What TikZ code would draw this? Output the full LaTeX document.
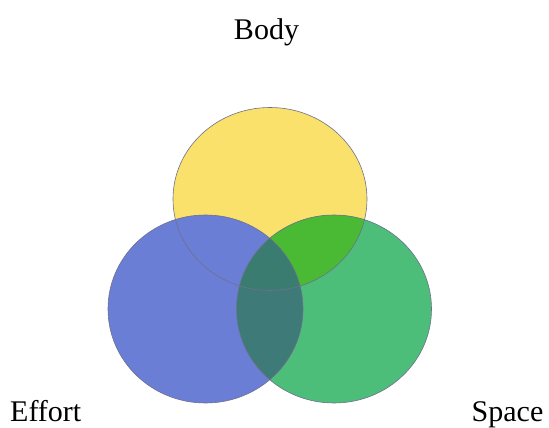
\documentclass[tikz,border=0pt]{standalone}
\usepackage{fontspec}
\setmainfont{Liberation Serif}
\definecolor{yelc}{RGB}{249,225,108}
\definecolor{bluc}{RGB}{106,126,214}
\definecolor{grnc}{RGB}{76,190,122}
\definecolor{ygc}{RGB}{74,186,52}
\definecolor{bgc}{RGB}{62,122,120}
\definecolor{bygc}{RGB}{58,124,112}
\definecolor{edgec}{RGB}{110,112,140}
\begin{document}
\begin{tikzpicture}[x=1pt,y=-1pt,
  lbl/.style={font=\fontsize{30}{36}\selectfont, inner sep=0pt},
  rim/.style={draw=edgec, line width=0.6pt}]
\useasboundingbox (0,0) rectangle (549,428);
\coordinate (cy) at (270,199);
\coordinate (cb) at (205.5,309);
\coordinate (cg) at (334,309);
\def\ye{(cy) ellipse [x radius=97pt, y radius=91.5pt]}
\def\bl{(cb) ellipse [x radius=97.5pt, y radius=94pt]}
\def\gr{(cg) ellipse [x radius=97.5pt, y radius=94pt]}
\fill[yelc] \ye;
\fill[bluc] \bl;
\fill[grnc] \gr;
\begin{scope}\clip \gr; \fill[ygc] \ye; \end{scope}
\begin{scope}\clip \bl; \fill[bgc] \gr; \end{scope}
\begin{scope}\clip \bl; \clip \gr; \fill[bygc] \ye; \end{scope}
\draw[rim] \ye;
\draw[rim] \bl;
\draw[rim] \gr;
\node[lbl, anchor=base] (body) at (266.5,39.3) {Body};
\node[lbl, anchor=base west] (effort) at (10,421) {Effort};
\node[lbl, anchor=base west] (space) at (471.5,421) {Space};
\end{tikzpicture}
\end{document}
